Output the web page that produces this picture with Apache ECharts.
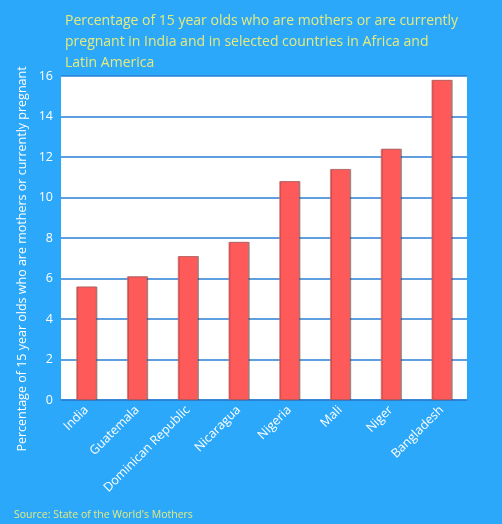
<!DOCTYPE html>
<html><head><meta charset="utf-8">
<script src="https://cdn.jsdelivr.net/npm/echarts@6/dist/echarts.min.js"></script>
<style>html,body{margin:0;padding:0;background:#2ba8fa;}#c{width:502px;height:524px;}</style>
</head><body><div id="c"></div>
<script>
var categories = ['India','Guatemala','Dominican Republic','Nicaragua','Nigeria','Mali','Niger','Bangladesh'];
var values = [5.6, 6.1, 7.1, 7.8, 10.8, 11.4, 12.4, 15.8];
var titleText = 'Percentage of 15 year olds who are mothers or are currently\npregnant in India and in selected countries in Africa and\nLatin America';
var yName = 'Percentage of 15 year olds who are mothers or currently pregnant';
var sourceText = 'Source: State of the World\'s Mothers';
var font = '"Open Sans", "DejaVu Sans", sans-serif';
var chart = echarts.init(document.getElementById('c'));
chart.setOption({
  backgroundColor: '#2ba8fa',
  animation: false,
  title: [{
    text: titleText, left: 60, top: 6,
    textStyle: {color: '#e6ea7c', fontSize: 14, fontWeight: 'normal', fontFamily: font, lineHeight: 21}
  },{
    text: sourceText, left: 9, top: 505,
    textStyle: {color: '#e6ea7c', fontSize: 10.5, fontWeight: 'normal', fontFamily: font}
  }],
  graphic: [{
    type: 'text', x: 22, y: 259, rotation: Math.PI / 2,
    style: {text: yName, fill: '#ffffff', fontSize: 12.5, fontFamily: font, textAlign: 'center', textVerticalAlign: 'middle'}
  }],
  grid: {left: 61, right: 35, top: 76, bottom: 124, show: true, backgroundColor: '#ffffff', borderWidth: 0},
  xAxis: {
    type: 'category', data: categories,
    axisLine: {lineStyle: {color: '#2b7fd4', width: 1.5}},
    axisTick: {show: false},
    axisLabel: {color: '#ffffff', rotate: 45, fontSize: 12.5, fontFamily: font, margin: 8, interval: 0}
  },
  yAxis: {
    type: 'value', min: 0, max: 16, interval: 2,
    axisLine: {show: false}, axisTick: {show: false},
    axisLabel: {color: '#ffffff', fontSize: 12.5, fontFamily: font, margin: 8},
    splitLine: {lineStyle: {color: '#2b7fd4', width: 1.5}}
  },
  series: [{
    type: 'bar', data: values, barWidth: 20,
    itemStyle: {color: '#ff5a5a', borderColor: '#b86a6a', borderWidth: 0.6,
      shadowColor: 'rgba(80,40,40,0.5)', shadowOffsetX: 1, shadowBlur: 0}
  }]
});
</script></body></html>
